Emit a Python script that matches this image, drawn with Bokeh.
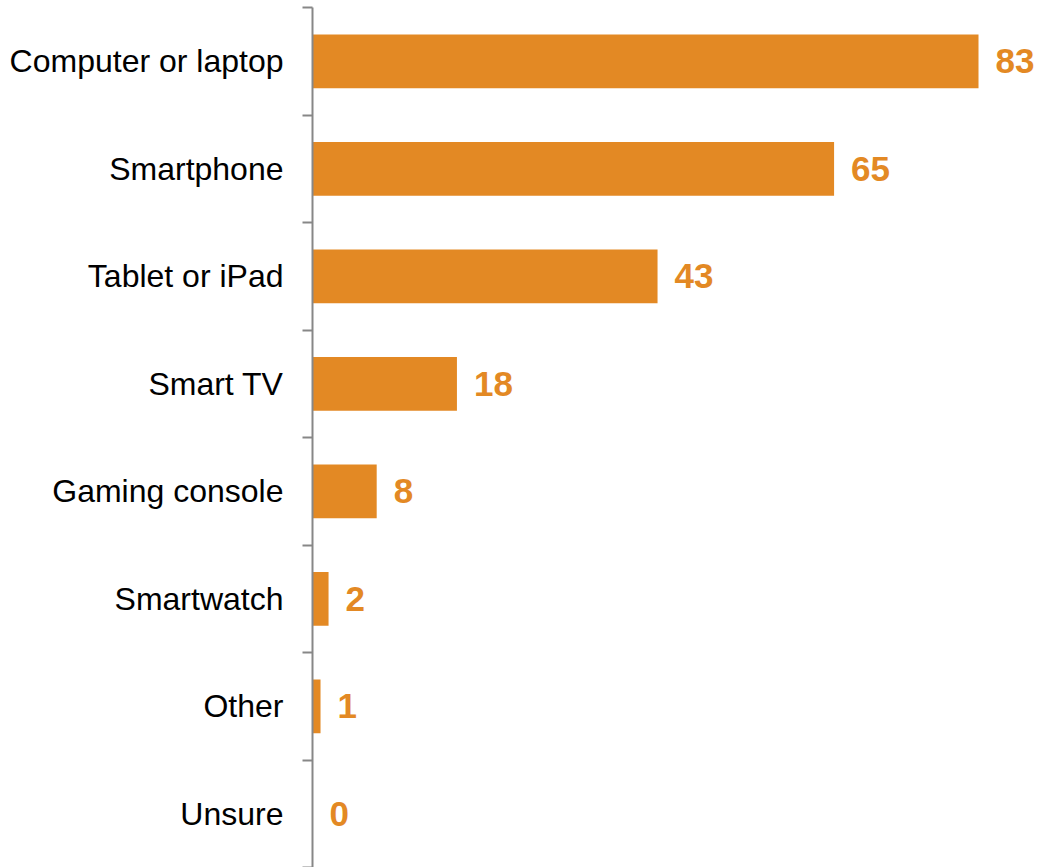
from bokeh.plotting import figure
from bokeh.models import Range1d, FixedTicker, ColumnDataSource
from bokeh.core.properties import value
from bokeh.embed import file_html
from bokeh.resources import INLINE

categories = ["Computer or laptop", "Smartphone", "Tablet or iPad", "Smart TV",
              "Gaming console", "Smartwatch", "Other", "Unsure"]
values = [83, 65, 43, 18, 8, 2, 1, 0]

BAR = "#E38924"
AXIS = "#878787"

centers = [i + 0.5 for i in range(len(categories))]
bounds = [float(i) for i in range(len(categories) + 1)]

src = ColumnDataSource(dict(y=centers, v=values, lbl=[str(v) for v in values]))

p = figure(width=1039, height=867, output_backend="svg", toolbar_location=None,
           x_range=Range1d(0, 90.6), y_range=Range1d(len(categories), 0),
           min_border_left=312, min_border_right=0, min_border_top=7, min_border_bottom=0)
p.outline_line_color = None
p.grid.visible = False
p.xaxis.visible = False
p.background_fill_color = "white"
p.border_fill_color = "white"

p.hbar(y="y", left=0, right="v", height=0.5, source=src, fill_color=BAR, line_color=None)
p.text(x="v", y="y", text="lbl", source=src, x_offset=17, text_align="left",
       text_baseline="middle", text_color=BAR, text_font=value("Liberation Sans"),
       text_font_style="bold", text_font_size="35px")

ya = p.yaxis[0]
ya.ticker = FixedTicker(ticks=centers, minor_ticks=bounds)
ya.major_label_overrides = {c: cat for c, cat in zip(centers, categories)}
ya.major_label_text_font = "Liberation Sans"
ya.major_label_text_font_size = "32px"
ya.major_label_text_color = "black"
ya.major_label_standoff = 19
ya.major_tick_out = 0
ya.major_tick_in = 0
ya.minor_tick_out = 10
ya.minor_tick_in = 0
ya.minor_tick_line_color = AXIS
ya.minor_tick_line_width = 2
ya.axis_line_color = AXIS
ya.axis_line_width = 2

open("out.html", "w").write(file_html(p, INLINE))
